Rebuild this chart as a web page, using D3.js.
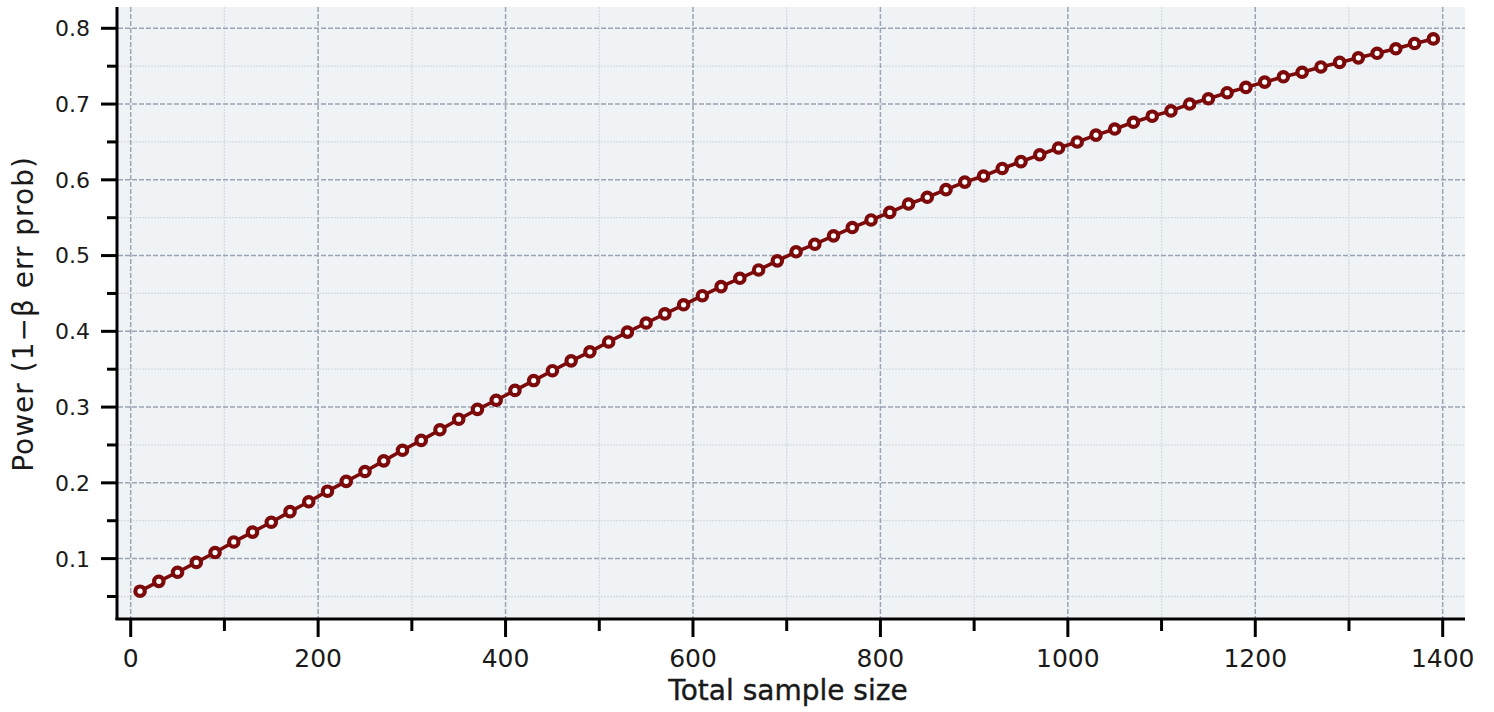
<!DOCTYPE html>
<html>
<head>
<meta charset="utf-8">
<script src="https://cdn.jsdelivr.net/npm/d3@7"></script>
<style>
    body { margin: 0; background: #ffffff; }
    text { font-family: "DejaVu Sans", sans-serif; fill: #1a1a1a; }
</style>
</head>
<body>
<div id="chart"></div>
<script>
const sampleSize = [10, 30, 50, 70, 90, 110, 130, 150, 170, 190,
    210, 230, 250, 270, 290, 310, 330, 350, 370, 390,
    410, 430, 450, 470, 490, 510, 530, 550, 570, 590,
    610, 630, 650, 670, 690, 710, 730, 750, 770, 790,
    810, 830, 850, 870, 890, 910, 930, 950, 970, 990,
    1010, 1030, 1050, 1070, 1090, 1110, 1130, 1150, 1170, 1190,
    1210, 1230, 1250, 1270, 1290, 1310, 1330, 1350, 1370, 1390];
const power = [0.057, 0.070, 0.082, 0.095, 0.108, 0.122, 0.135, 0.148, 0.162, 0.175,
    0.189, 0.202, 0.215, 0.229, 0.243, 0.256, 0.270, 0.284, 0.297, 0.309,
    0.322, 0.335, 0.348, 0.361, 0.373, 0.386, 0.399, 0.411, 0.423, 0.435,
    0.447, 0.459, 0.470, 0.481, 0.493, 0.505, 0.515, 0.526, 0.537, 0.547,
    0.557, 0.568, 0.577, 0.587, 0.597, 0.605, 0.615, 0.624, 0.633, 0.642,
    0.650, 0.659, 0.667, 0.676, 0.684, 0.691, 0.700, 0.707, 0.715, 0.722,
    0.729, 0.736, 0.742, 0.749, 0.755, 0.761, 0.767, 0.773, 0.780, 0.786];
const xMajorTicks = [0, 200, 400, 600, 800, 1000, 1200, 1400];
const xMinorTicks = [100, 300, 500, 700, 900, 1100, 1300];
const yMajorTicks = [0.1, 0.2, 0.3, 0.4, 0.5, 0.6, 0.7, 0.8];
const yMinorTicks = [0.05, 0.15, 0.25, 0.35, 0.45, 0.55, 0.65, 0.75];

const W = 1494, H = 712;
const plot = { left: 118, right: 1465, top: 7, bottom: 619 };

const svg = d3.select("#chart")
    .append("svg")
    .attr("width", W)
    .attr("height", H);

const x = d3.scaleLinear().domain([0, 1400]).range([130.7, 1442.7]);
const y = d3.scaleLinear().domain([0.1, 0.8]).range([558.6, 28.3]);

svg.append("rect")
    .attr("x", plot.left)
    .attr("y", plot.top)
    .attr("width", plot.right - plot.left)
    .attr("height", plot.bottom - plot.top)
    .attr("fill", "#eff3f6");

// minor grid
const grid = svg.append("g");
grid.selectAll("line.ymin")
    .data(yMinorTicks.filter(d => y(d) > plot.top && y(d) < plot.bottom))
    .enter().append("line")
    .attr("x1", plot.left).attr("x2", plot.right)
    .attr("y1", d => y(d)).attr("y2", d => y(d))
    .attr("stroke", "#d5dbe2").attr("stroke-width", 1.3)
    .attr("stroke-dasharray", "2,1");
grid.selectAll("line.xmin")
    .data(xMinorTicks)
    .enter().append("line")
    .attr("x1", d => x(d)).attr("x2", d => x(d))
    .attr("y1", plot.top).attr("y2", plot.bottom)
    .attr("stroke", "#d5dbe2").attr("stroke-width", 1.3)
    .attr("stroke-dasharray", "2,1");

// major grid
grid.selectAll("line.ymaj")
    .data(yMajorTicks)
    .enter().append("line")
    .attr("x1", plot.left).attr("x2", plot.right)
    .attr("y1", d => y(d)).attr("y2", d => y(d))
    .attr("stroke", "#9aa4b2").attr("stroke-width", 1.5)
    .attr("stroke-dasharray", "5,2");
grid.selectAll("line.xmaj")
    .data(xMajorTicks)
    .enter().append("line")
    .attr("x1", d => x(d)).attr("x2", d => x(d))
    .attr("y1", plot.top).attr("y2", plot.bottom)
    .attr("stroke", "#9aa4b2").attr("stroke-width", 1.5)
    .attr("stroke-dasharray", "5,2");

// axes lines
svg.append("line")
    .attr("x1", plot.left - 1).attr("x2", plot.left - 1)
    .attr("y1", plot.top).attr("y2", plot.bottom + 1)
    .attr("stroke", "#000").attr("stroke-width", 3);
svg.append("line")
    .attr("x1", plot.left - 2.5).attr("x2", plot.right)
    .attr("y1", plot.bottom).attr("y2", plot.bottom)
    .attr("stroke", "#000").attr("stroke-width", 3);

// y ticks
svg.selectAll("line.ytick")
    .data(yMajorTicks)
    .enter().append("line")
    .attr("x1", plot.left - 17).attr("x2", plot.left - 1)
    .attr("y1", d => y(d)).attr("y2", d => y(d))
    .attr("stroke", "#000").attr("stroke-width", 3);
svg.selectAll("line.yminor")
    .data(yMinorTicks)
    .enter().append("line")
    .attr("x1", plot.left - 11).attr("x2", plot.left - 1)
    .attr("y1", d => y(d)).attr("y2", d => y(d))
    .attr("stroke", "#000").attr("stroke-width", 3);
svg.selectAll("text.ylab")
    .data(yMajorTicks)
    .enter().append("text")
    .attr("x", 90)
    .attr("y", d => y(d))
    .attr("dy", "0.36em")
    .attr("text-anchor", "end")
    .style("font-size", "22px")
    .text(d => d3.format(".1f")(d));

// x ticks
svg.selectAll("line.xtick")
    .data(xMajorTicks)
    .enter().append("line")
    .attr("x1", d => x(d)).attr("x2", d => x(d))
    .attr("y1", plot.bottom).attr("y2", plot.bottom + 18)
    .attr("stroke", "#000").attr("stroke-width", 3);
svg.selectAll("line.xminor")
    .data(xMinorTicks)
    .enter().append("line")
    .attr("x1", d => x(d)).attr("x2", d => x(d))
    .attr("y1", plot.bottom).attr("y2", plot.bottom + 12)
    .attr("stroke", "#000").attr("stroke-width", 3);
svg.selectAll("text.xlab")
    .data(xMajorTicks)
    .enter().append("text")
    .attr("x", d => x(d))
    .attr("y", 667)
    .attr("text-anchor", "middle")
    .style("font-size", "25px")
    .text(d => d);

// axis titles
svg.append("text")
    .attr("x", 788)
    .attr("y", 700)
    .attr("text-anchor", "middle")
    .style("font-size", "28px")
    .style("stroke", "#1a1a1a")
    .style("stroke-width", 0.4)
    .text("Total sample size");

svg.append("text")
    .attr("transform", "translate(33,314) rotate(-90)")
    .attr("text-anchor", "middle")
    .style("font-size", "28px")
    .style("letter-spacing", "1px")
    .text("Power (1\u2212\u03b2 err prob)");

// curve
const pts = sampleSize.map((n, i) => ({ n: n, p: power[i] }));

const line = d3.line()
    .x(d => x(d.n))
    .y(d => y(d.p));

svg.append("path")
    .datum(pts)
    .attr("d", line)
    .attr("fill", "none")
    .attr("stroke", "#7c0a0a")
    .attr("stroke-width", 3.6);

svg.selectAll("circle.point")
    .data(pts)
    .enter().append("circle")
    .attr("class", "point")
    .attr("cx", d => x(d.n))
    .attr("cy", d => y(d.p))
    .attr("r", 4.7)
    .attr("fill", "#ffffff")
    .attr("stroke", "#7c0a0a")
    .attr("stroke-width", 4.2);
</script>
</body>
</html>
